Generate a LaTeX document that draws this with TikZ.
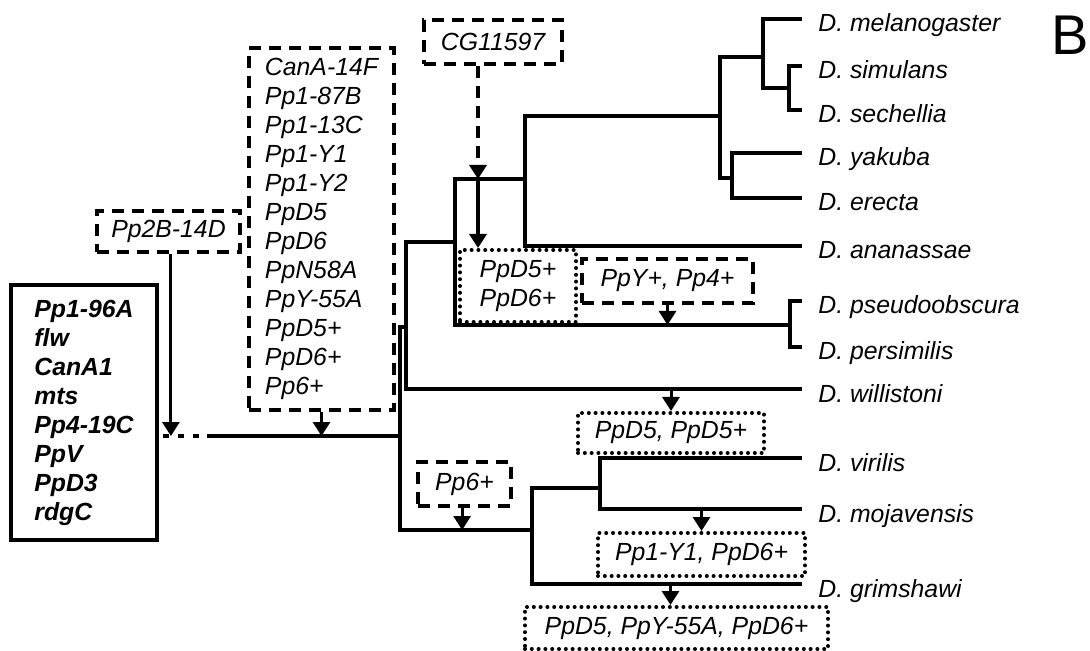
\documentclass[tikz,border=0pt]{standalone}
\usepackage{fontspec}
\setmainfont{Liberation Sans}
\usepackage{tikz}
\usetikzlibrary{arrows.meta,positioning}
\newcommand{\genesize}{\fontsize{12.4}{14.5}\selectfont}
\tikzset{
  >={Triangle[width=8.5pt,length=7pt]},
  branch/.style={line width=1.7pt},
  marker/.style={->, line width=1.5pt, draw=black},
  dashline/.style={line width=2pt, dash pattern=on 6pt off 4pt},
  dashbox/.style={
    draw, dashline,
    inner sep=0pt,
    align=left,
    font=\genesize\itshape
  },
  dotbox/.style={
    draw,
    line width=2pt,
    dash pattern=on 0pt off 3.4pt,
    line cap=round,
    inner sep=0pt,
    align=left,
    font=\genesize\itshape
  },
  genebox/.style={
    draw,
    line width=2pt,
    inner sep=0pt,
    align=left,
    font=\genesize\bfseries\itshape
  },
  rootdots/.style={line width=2.4pt, dash pattern=on 3pt off 4.5pt},
  taxon/.style={anchor=base west, inner sep=0pt, xshift=8pt, yshift=-6.5pt, font=\genesize\itshape}
}

\begin{document}
\begin{tikzpicture}[x=0.5pt, y=-0.5pt]
  \useasboundingbox (0,0) rectangle (1090,651);

  % tips of the tree
  \coordinate (tMel) at (802,19);
  \coordinate (tSim) at (802,66);
  \coordinate (tSec) at (802,110);
  \coordinate (tYak) at (802,153);
  \coordinate (tEre) at (802,198);
  \coordinate (tAna) at (802,246);
  \coordinate (tPse) at (802,301);
  \coordinate (tPer) at (802,347);
  \coordinate (tWil) at (802,389);
  \coordinate (tVir) at (802,458);
  \coordinate (tMoj) at (802,509);
  \coordinate (tGri) at (802,584);

  \node[taxon] (mel) at (tMel) {D. melanogaster};
  \node[taxon] (sim) at (tSim) {D. simulans};
  \node[taxon] (sec) at (tSec) {D. sechellia};
  \node[taxon] (yak) at (tYak) {D. yakuba};
  \node[taxon] (ere) at (tEre) {D. erecta};
  \node[taxon] (ana) at (tAna) {D. ananassae};
  \node[taxon] (pse) at (tPse) {D. pseudoobscura};
  \node[taxon] (per) at (tPer) {D. persimilis};
  \node[taxon] (wil) at (tWil) {D. willistoni};
  \node[taxon] (vir) at (tVir) {D. virilis};
  \node[taxon] (moj) at (tMoj) {D. mojavensis};
  \node[taxon] (gri) at (tGri) {D. grimshawi};

  % inner nodes
  \coordinate (simsec) at (789,88);
  \coordinate (yakere) at (732,178);
  \coordinate (obsgrp) at (790,325);
  \coordinate (sophoph) at (525,179);
  \coordinate (virmoj) at (600,488);
  \coordinate (stemS) at (207,436);
  \coordinate (root) at (400,436);

  \draw[branch] (tSim) -| (simsec) |- (tSec);
  \draw[branch] (tMel) -| (763,88) -- (simsec);
  \draw[branch] (tYak) -| (yakere) |- (tEre);
  \draw[branch] (763,57) -| (720,178) -- (yakere);
  \draw[branch] (720,116) -| (525,246) -- (tAna);
  \draw[branch] (tPse) -| (obsgrp) |- (tPer);
  \draw[branch] (sophoph) -| (455,325) -- (obsgrp);
  \draw[branch] (455,242) -| (406,389) -- (tWil);
  \draw[branch] (406,327) -- (400,327) -- (400,530) -- (532,530);
  \draw[branch] (tVir) -| (virmoj) |- (tMoj);
  \draw[branch] (virmoj) -| (532,584) -- (tGri);
  \draw[branch] (stemS) -- (root);

  % gene boxes
  \node[genebox, minimum width=73pt, minimum height=127.5pt] (ancestral) at (84,412.5)
    {Pp1-96A\\flw\\CanA1\\mts\\Pp4-19C\\PpV\\PpD3\\rdgC};
  \draw[rootdots] (ancestral.east |- root) ++(2pt,0) -- (stemS);

  \node[dashbox, minimum width=71.5pt, minimum height=20.5pt] (pp2b) at (168.5,231.5) {Pp2B-14D};
  \node[dashbox, minimum width=72.5pt, minimum height=181pt] (gained) at (321.5,229)
    {CanA-14F\\Pp1-87B\\Pp1-13C\\Pp1-Y1\\Pp1-Y2\\PpD5\\PpD6\\PpN58A\\PpY-55A\\PpD5+\\PpD6+\\Pp6+};
  \node[dashbox, minimum width=69pt, minimum height=22pt] (cg) at (493,42) {CG11597};
  \node[dotbox, minimum width=58pt, minimum height=36pt] (lostA) at (518,286) {PpD5+\\PpD6+};
  \node[dashbox, minimum width=85.5pt, minimum height=22pt] (obsgain) at (667.5,281) {PpY+, Pp4+};
  \node[dotbox, minimum width=93pt, minimum height=20pt] (lostWil) at (671,433) {PpD5, PpD5+};
  \node[dashbox, minimum width=46.5pt, minimum height=22pt] (pp6) at (464.5,484) {Pp6+};
  \node[dotbox, minimum width=103.5pt, minimum height=21.5pt] (lostMoj) at (701.5,554.5) {Pp1-Y1, PpD6+};
  \node[dotbox, minimum width=151.5pt, minimum height=21pt] (lostGri) at (676.5,628) {PpD5, PpY-55A, PpD6+};

  \node[font=\fontsize{28}{30}\selectfont, inner sep=0pt] (panel) at (1070.5,35) {B};

  % gains and losses
  \draw[marker] ([xshift=1.2pt]pp2b.south) -- ([xshift=1.2pt]pp2b.south |- root);
  \draw[marker] (gained.south) -- (gained.south |- root);
  \coordinate (cgx) at ([xshift=-7.5pt]cg.south);
  \draw[->, dashline] (cgx) -- (cgx |- sophoph);
  \draw[marker, line width=2.2pt] (cgx |- sophoph) -- (cgx |- lostA.north);
  \draw[marker] (obsgain.south) -- (obsgain.south |- obsgrp);
  \draw[marker] (lostWil.north |- tWil) -- (lostWil.north);
  \draw[marker] ([xshift=-1.2pt]pp6.south) -- ([xshift=-1.2pt]pp6.south |- 400,530);
  \draw[marker] (lostMoj.north |- tMoj) -- (lostMoj.north);
  \draw[marker] ([xshift=-3pt]lostGri.north |- tGri) -- ([xshift=-3pt]lostGri.north);
\end{tikzpicture}
\end{document}
